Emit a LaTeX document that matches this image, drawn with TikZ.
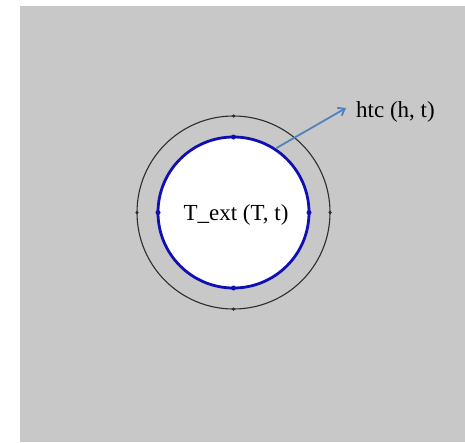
\documentclass[tikz,border=0pt]{standalone}
\usepackage{fontspec}
\setmainfont{Liberation Serif}
\usetikzlibrary{arrows.meta}
\definecolor{bggray}{RGB}{200,200,200}
\definecolor{ringblue}{RGB}{15,15,180}
\definecolor{arrowblue}{RGB}{80,130,190}
\definecolor{ringdark}{RGB}{45,45,45}
\tikzset{
  lbl/.style={font=\fontsize{23}{27}\selectfont, inner sep=0pt},
  outerdot/.style={circle, fill=ringdark, inner sep=0pt, minimum size=3.5pt},
  innerdot/.style={circle, fill=ringblue, inner sep=0pt, minimum size=5pt},
}
\begin{document}
\begin{tikzpicture}[x=1pt,y=-1pt]
\useasboundingbox (0,0) rectangle (465,442);
\fill[white] (0,0) rectangle (465,442);
\fill[bggray] (20,6) rectangle (465,442);
% rings
\draw[ringdark, line width=1.1pt] (233.5,212.5) circle[radius=96.5];
\fill[white] (233.5,212.5) circle[radius=75.5];
\draw[ringblue, line width=2.8pt] (233.5,212.5) circle[radius=75.5];
% dots
\node[outerdot] (o1) at (233.5,116) {};
\node[outerdot] (o2) at (137,212.5) {};
\node[outerdot] (o3) at (330,212.5) {};
\node[outerdot] (o4) at (233.5,309) {};
\node[innerdot] (i1) at (233.5,137) {};
\node[innerdot] (i2) at (158,212.5) {};
\node[innerdot] (i3) at (309,212.5) {};
\node[innerdot] (i4) at (233.5,288) {};
% labels
\node[lbl] (text) at (236,215) {T\_ext (T, t)};
\node[lbl, anchor=west] (htc) at (356,112) {htc (h, t)};
% arrow
\coordinate (start) at (276.5,148);
\coordinate (tip) at (346,108);
\draw[arrowblue, line width=1.8pt, -{Straight Barb[length=6pt,width=9pt]}] (start) -- (tip);
\end{tikzpicture}
\end{document}
